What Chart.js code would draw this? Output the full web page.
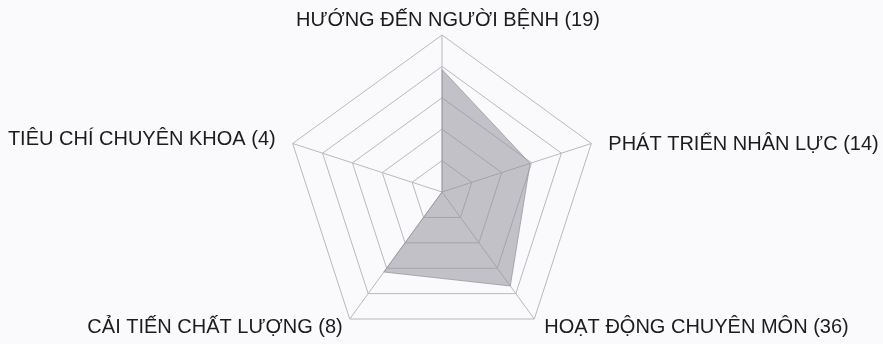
<!DOCTYPE html>
<html>
<head>
<meta charset="utf-8">
<script src="https://cdn.jsdelivr.net/npm/chart.js@4.4.0/dist/chart.umd.min.js"></script>
<style>
    html, body { margin: 0; padding: 0; background: #fafafc; overflow: hidden; }
    #wrap { width: 883px; height: 349px; }
</style>
</head>
<body>
<div id="wrap"><canvas id="radarChart"></canvas></div>
<script>
// categories and their counts (shown in the labels)
const categories = [
    "HƯỚNG ĐẾN NGƯỜI BỆNH",
    "PHÁT TRIỂN NHÂN LỰC",
    "HOẠT ĐỘNG CHUYÊN MÔN",
    "CẢI TIẾN CHẤT LƯỢNG",
    "TIÊU CHÍ CHUYÊN KHOA"
];
const counts = [19, 14, 36, 8, 4];

// plotted values (scale 0-100)
const values = [78, 59, 74, 63, 0];

const scaleMin = 0;
const scaleMax = 100;
const scaleStep = 20;

const labels = categories.map((c, i) => c + " (" + counts[i] + ")");

// label placement relative to each outer vertex: dx, dy (cap middle), align
const labelPlace = [
    { dx: 6, dy: -16, align: "center" },
    { dx: 17, dy: 0, align: "left" },
    { dx: 10, dy: 7, align: "left" },
    { dx: -7, dy: 7, align: "right" },
    { dx: -17, dy: -5, align: "right" }
];

const outerLabels = {
    id: "outerLabels",
    afterDraw(chart) {
        const scale = chart.scales.r;
        const ctx = chart.ctx;
        ctx.save();
        ctx.font = "20px 'Liberation Sans', Arial, sans-serif";
        ctx.fillStyle = "#1c1c1c";
        ctx.textBaseline = "alphabetic";
        labels.forEach((text, i) => {
            const p = scale.getPointPosition(i, scale.drawingArea);
            const place = labelPlace[i];
            ctx.textAlign = place.align;
            ctx.fillText(text, p.x + place.dx, p.y + place.dy + 7);
        });
        ctx.restore();
    }
};

const ctx = document.getElementById("radarChart").getContext("2d");
new Chart(ctx, {
    type: "radar",
    data: {
        labels: labels,
        datasets: [{
            data: values,
            backgroundColor: "rgba(145, 145, 155, 0.55)",
            borderColor: "rgba(145, 145, 155, 0.7)",
            borderWidth: 1,
            pointRadius: 0,
            fill: true
        }]
    },
    options: {
        responsive: true,
        maintainAspectRatio: false,
        animation: false,
        layout: {
            padding: { left: 2, right: 0, top: 35, bottom: 0 }
        },
        scales: {
            r: {
                min: scaleMin,
                max: scaleMax,
                ticks: { stepSize: scaleStep, display: false },
                grid: { color: "#b8b8be", lineWidth: 1 },
                angleLines: { color: "#b8b8be", lineWidth: 1 },
                pointLabels: { display: false }
            }
        },
        plugins: {
            legend: { display: false },
            tooltip: { enabled: false }
        }
    },
    plugins: [outerLabels]
});
</script>
</body>
</html>
